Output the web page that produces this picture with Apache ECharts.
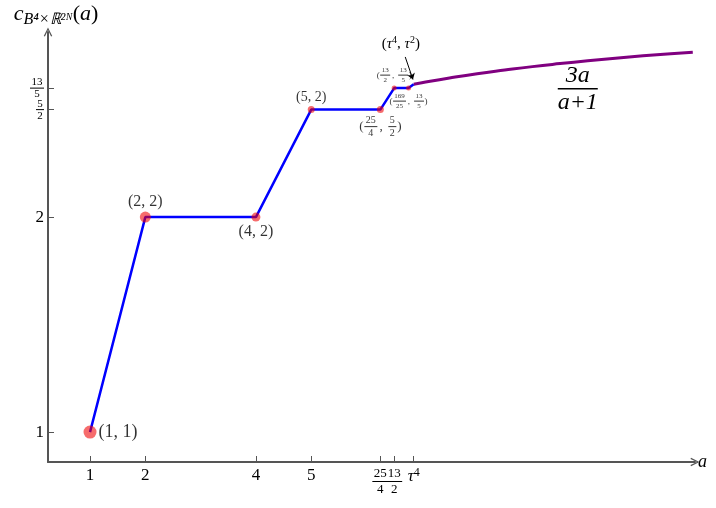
<!DOCTYPE html>
<html lang="en">
<head>
    <meta charset="UTF-8">
    <title>c(a) staircase</title>
    <style>
        html, body { margin: 0; padding: 0; background: #fff; }
        #main { width: 716px; height: 508px; }
    </style>
</head>
<body>
    <div id="main"></div>
    <script src="https://cdn.jsdelivr.net/npm/echarts@6/dist/echarts.min.js"></script>
    <script>
        // staircase (blue) corners
        let stairA = [1, 2, 4, 5, 6.25, 6.5, 6.76, 6.854];
        let stairC = [1, 2, 2, 2.5, 2.5, 2.6, 2.6, 2.618];
        // volume curve 3a/(a+1) (purple)
        let curveA = [6.854, 7, 7.5, 8, 8.5, 9, 9.5, 10, 10.5, 11, 11.5, 11.9];
        let curveC = [2.618, 2.625, 2.647, 2.667, 2.684, 2.7, 2.714, 2.727, 2.739, 2.75, 2.76, 2.767];
        // marked points
        let ptA = [1, 2, 4, 5, 6.25, 6.5, 6.76];
        let ptC = [1, 2, 2, 2.5, 2.5, 2.6, 2.6];
        let ptLabels = ['(1, 1)', '(2, 2)', '(4, 2)', '(5, 2)', ['(', ['25', '4'], ', ', ['5', '2'], ')'],
            ['(', ['13', '2'], ', ', ['13', '5'], ')'], ['(', ['169', '25'], ', ', ['13', '5'], ')']];
        // axis ticks
        let xTicks = [1, 2, 4, 5, 6.25, 6.5, 6.854];
        let xTickText = ['1', '2', '4', '5', '25/4', '13/2', 'τ4'];
        let yTicks = [1, 2, 2.5];
        let yTickText = ['1', '2', '5/2'];
        let yTopTick = [2.6];
        let yTopText = ['13/5'];

        const serif = 'Liberation Serif';
        const ink = '#000';

        // style for the dots: size, label side, font size
        const dotSize = [13, 11, 9, 7, 7, 5, 5];
        const dotPos = ['right', 'top', 'bottom', 'top', 'bottom', 'top', 'bottom'];
        const dotFont = [18, 16, 16, 14, 10, 7, 7];

        // builds a 3-row rich text for parts like '(' , ['25','4'] , ')'
        function stack(parts, fs, italic, lh) {
            const rich = {};
            const rows = ['', '', ''];
            lh = lh || fs;
            parts.forEach((p, i) => {
                const k = 'k' + i;
                const isF = Array.isArray(p);
                const len = isF ? Math.max(p[0].length, p[1].length) : p.length;
                const w = Math.ceil(fs * 0.52 * len) + (isF ? 2 : 0);
                const st = italic ? 'italic' : 'normal';
                rich[k] = { width: w, align: 'center', fontSize: fs, fontFamily: serif, fontStyle: st, color: ink, lineHeight: lh };
                rich[k + 'm'] = { width: w, align: 'center', fontSize: fs * 1.3, fontFamily: serif, color: ink, lineHeight: 3 };
                rich[k + 'b'] = { width: w, height: fs > 15 ? 1.5 : 1, lineHeight: 3, backgroundColor: ink };
                if (isF) {
                    rows[0] += `{${k}|${p[0]}}`;
                    rows[1] += `{${k}b| }`;
                    rows[2] += `{${k}|${p[1]}}`;
                } else {
                    rows[0] += `{${k}| }`;
                    rows[1] += `{${k}m|${p}}`;
                    rows[2] += `{${k}| }`;
                }
            });
            return { formatter: rows.join('\n'), rich: rich };
        }

        function tickLabel(txt, fs, lh) {
            if (txt.indexOf('/') > 0) {
                const s = txt.split('/');
                return stack([[s[0], s[1]]], fs, false, lh);
            }
            if (txt === 'τ4') {
                return {
                    formatter: '{i|τ}{u|4}',
                    rich: {
                        i: { fontFamily: serif, fontStyle: 'italic', fontSize: 17, color: ink, verticalAlign: 'bottom' },
                        u: { fontFamily: serif, fontSize: 12, color: ink, verticalAlign: 'top', padding: [0, 0, 6, 0] }
                    }
                };
            }
            return { formatter: txt, rich: {} };
        }

        // label settings for an axis from its tick values and texts
        function axisLabels(ticks, texts, tag, fs, lh) {
            const labs = texts.map(t => tickLabel(t, fs, lh));
            const rich = {};
            labs.forEach((l, i) => Object.keys(l.rich).forEach(k => { rich[tag + i + k] = l.rich[k]; }));
            return {
                customValues: ticks,
                hideOverlap: false,
                fontFamily: serif,
                fontSize: 17,
                color: ink,
                rich: rich,
                formatter(v) {
                    const i = ticks.findIndex(t => Math.abs(t - v) < 1e-6);
                    return i < 0 ? '' : labs[i].formatter.replace(/\{([a-zA-Z0-9_]+)\|/g, '{' + tag + i + '$1|');
                }
            };
        }

        const points = ptA.map((a, i) => {
            const lab = Array.isArray(ptLabels[i]) ? stack(ptLabels[i], dotFont[i]) : null;
            return {
                value: [a, ptC[i]],
                symbolSize: dotSize[i],
                label: {
                    show: true,
                    position: dotPos[i],
                    distance: 2,
                    fontFamily: serif,
                    fontSize: dotFont[i],
                    color: ink,
                    formatter: lab ? lab.formatter : ptLabels[i],
                    rich: lab ? lab.rich : {}
                }
            };
        });

        const vol = stack([['3a', 'a+1']], 24, true);

        const arrowHead = 'path://M0,10 L5,0 L10,10 L8.6,10.6 L5,3 L1.4,10.6 Z';
        const axisStroke = { color: '#555', width: 2 };

        var myChart = echarts.init(document.getElementById('main'));
        option = {
            animation: false,
            grid: { left: 48, right: 21, top: 30, bottom: 46 },
            xAxis: {
                type: 'value',
                min: 0.24,
                max: 11.94,
                name: 'a',
                nameGap: 3,
                nameTextStyle: { fontFamily: serif, fontStyle: 'italic', fontSize: 18, color: ink, verticalAlign: 'middle' },
                splitLine: { show: false },
                axisLine: { onZero: false, symbol: ['none', arrowHead], symbolSize: [10, 9], lineStyle: axisStroke },
                axisTick: { show: true, inside: true, length: 6, customValues: xTicks, lineStyle: { color: '#555' } },
                axisLabel: Object.assign(axisLabels(xTicks, xTickText, 'x', 13), { margin: 5 })
            },
            yAxis: [{
                type: 'value',
                min: 0.861,
                max: 2.861,
                name: '{c|c}{s|B⁴×ℝ²ᴺ}{p|(}{c|a}{p|)}',
                nameGap: 7,
                nameTextStyle: {
                    padding: [0, 0, 0, 16],
                    rich: {
                        c: { fontFamily: serif, fontStyle: 'italic', fontSize: 22, lineHeight: 22, color: ink },
                        s: { fontFamily: serif, fontStyle: 'italic', fontSize: 16, lineHeight: 16, color: ink, padding: [12, 0, 0, 0] },
                        p: { fontFamily: serif, fontSize: 22, lineHeight: 22, color: ink }
                    }
                },
                splitLine: { show: false },
                axisLine: { show: true, onZero: false, symbol: ['none', arrowHead], symbolSize: [10, 9], lineStyle: axisStroke },
                axisTick: { show: true, inside: true, length: 6, customValues: yTicks, lineStyle: { color: '#555' } },
                axisLabel: Object.assign(axisLabels(yTicks, yTickText, 'y', 11, 9), { margin: 4 })
            }, {
                // second copy of the same scale, only for the 13/5 tick so it is not hidden next to 5/2
                type: 'value',
                position: 'left',
                min: 0.861,
                max: 2.861,
                splitLine: { show: false },
                axisLine: { show: false },
                axisTick: { show: true, inside: true, length: 6, customValues: yTopTick, lineStyle: { color: '#555' } },
                axisLabel: Object.assign(axisLabels(yTopTick, yTopText, 'z', 11, 9), { margin: 4 })
            }],
            series: [{
                type: 'line',
                data: stairA.map((a, i) => [a, stairC[i]]),
                symbol: 'none',
                lineStyle: { color: '#0000ff', width: 2.5 },
                z: 3
            }, {
                type: 'line',
                data: curveA.map((a, i) => [a, curveC[i]]),
                symbol: 'none',
                smooth: true,
                lineStyle: { color: '#800080', width: 3 },
                z: 3,
                markPoint: {
                    symbolSize: 0,
                    data: [{
                        coord: [9.82, 2.597],
                        label: { show: true, position: 'inside', formatter: vol.formatter, rich: vol.rich }
                    }, {
                        coord: [6.62, 2.806],
                        label: {
                            show: true, position: 'inside',
                            formatter: '{p|(}{i|τ}{u|4}{p|, }{i|τ}{u|2}{p|)}',
                            rich: {
                                p: { fontFamily: serif, fontSize: 15, color: ink },
                                i: { fontFamily: serif, fontStyle: 'italic', fontSize: 15, color: ink },
                                u: { fontFamily: serif, fontSize: 10, color: ink, verticalAlign: 'top', padding: [0, 0, 7, 0] }
                            }
                        }
                    }]
                },
                markLine: {
                    silent: true,
                    symbol: ['none', 'arrow'],
                    symbolSize: 6,
                    label: { show: false },
                    lineStyle: { color: '#000', width: 1, type: 'solid', curveness: 0.5 },
                    data: [[{ coord: [6.7, 2.745] }, { coord: [6.84, 2.64] }]]
                }
            }, {
                type: 'scatter',
                data: points,
                itemStyle: { color: 'rgba(240, 0, 0, 0.72)' },
                z: 5
            }]
        };
        myChart.setOption(option);
    </script>
</body>
</html>
